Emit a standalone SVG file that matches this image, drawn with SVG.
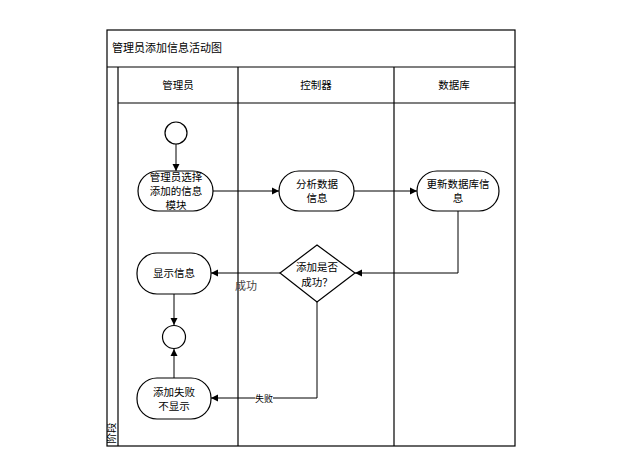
<svg xmlns="http://www.w3.org/2000/svg" width="623" height="457" viewBox="0 0 623 457">
<style>
.ln{fill:none;stroke:#000;stroke-width:1.2}
.nd{fill:#fff;stroke:#000;stroke-width:1.2}
.t{font-family:"Noto Sans CJK SC","Noto Sans CJK JP",sans-serif;font-size:10.5px;fill:#000;text-anchor:middle}
.c{fill:none;stroke:#000;stroke-width:1}
</style>
<defs>
<marker id="ar" markerWidth="8" markerHeight="8" refX="7" refY="4" orient="auto" markerUnits="userSpaceOnUse">
<path d="M0,0.5 L7,4 L0,7.5 Z" fill="#000"/>
</marker>
<clipPath id="cp"><rect x="107" y="103" width="11" height="343"/></clipPath>
</defs>
<rect width="623" height="457" fill="#fff"/>
<g id="frame">
<rect x="107" y="30" width="408" height="416" class="ln"/>
<line x1="107" y1="67" x2="515" y2="67" class="ln"/>
<line x1="118" y1="67" x2="118" y2="446" class="ln"/>
<line x1="118" y1="103" x2="515" y2="103" class="ln"/>
<line x1="238" y1="67" x2="238" y2="446" class="ln"/>
<line x1="394" y1="67" x2="394" y2="446" class="ln"/>
<text x="112" y="52" style="font-family:'Noto Sans CJK SC',sans-serif;font-size:11px">管理员添加信息活动图</text>
<text x="178" y="89" class="t">管理员</text>
<text x="316" y="89" class="t">控制器</text>
<text x="454" y="89" class="t">数据库</text>
<g clip-path="url(#cp)">
<text transform="translate(115,433) rotate(-90)" class="t">阶段</text>
</g>
</g>
<g id="connectors">
<line x1="176" y1="144" x2="176" y2="171" class="c" marker-end="url(#ar)"/>
<line x1="213" y1="191" x2="279" y2="191" class="c" marker-end="url(#ar)"/>
<line x1="354" y1="191" x2="417" y2="191" class="c" marker-end="url(#ar)"/>
<polyline points="458,211 458,273 355,273" class="c" marker-end="url(#ar)"/>
<line x1="280" y1="273" x2="211" y2="273" class="c" marker-end="url(#ar)"/>
<polyline points="317,302 317,398 211,398" class="c" marker-end="url(#ar)"/>
<line x1="174" y1="294" x2="174" y2="325" class="c" marker-end="url(#ar)"/>
<line x1="174" y1="378" x2="174" y2="349" class="c" marker-end="url(#ar)"/>
<text x="246" y="290" style="font-family:'Noto Sans CJK SC',sans-serif;font-size:11px;fill:#444;text-anchor:middle">成功</text>
<rect x="255" y="393" width="18" height="10" fill="#fff"/>
<text x="264" y="402" style="font-family:'Noto Sans CJK SC',sans-serif;font-size:9px;text-anchor:middle">失败</text>
</g>
<g id="start"><circle cx="176" cy="133" r="11" class="nd"/></g>
<g id="n1">
<rect x="138" y="171" width="75" height="40" rx="20" class="nd"/>
<text x="176" y="181" class="t">管理员选择</text>
<text x="176" y="195" class="t">添加的信息</text>
<text x="176" y="209" class="t">模块</text>
</g>
<g id="n2">
<rect x="279" y="171" width="75" height="40" rx="20" class="nd"/>
<text x="317" y="188" class="t">分析数据</text>
<text x="317" y="202" class="t">信息</text>
</g>
<g id="n3">
<rect x="417" y="171" width="82" height="40" rx="20" class="nd"/>
<text x="458" y="188" class="t">更新数据库信</text>
<text x="458" y="202" class="t">息</text>
</g>
<g id="dec">
<polygon points="317,245 355,273 317,302 280,273" class="nd"/>
<text x="317" y="271" class="t">添加是否</text>
<text x="317" y="286" class="t">成功？</text>
</g>
<g id="n4">
<rect x="137" y="253" width="74" height="41" rx="20" class="nd"/>
<text x="174" y="277" class="t">显示信息</text>
</g>
<g id="end"><circle cx="174" cy="337" r="11.5" class="nd"/></g>
<g id="n5">
<rect x="137" y="378" width="74" height="41" rx="20" class="nd"/>
<text x="174" y="396" class="t">添加失败</text>
<text x="174" y="410" class="t">不显示</text>
</g>
</svg>
